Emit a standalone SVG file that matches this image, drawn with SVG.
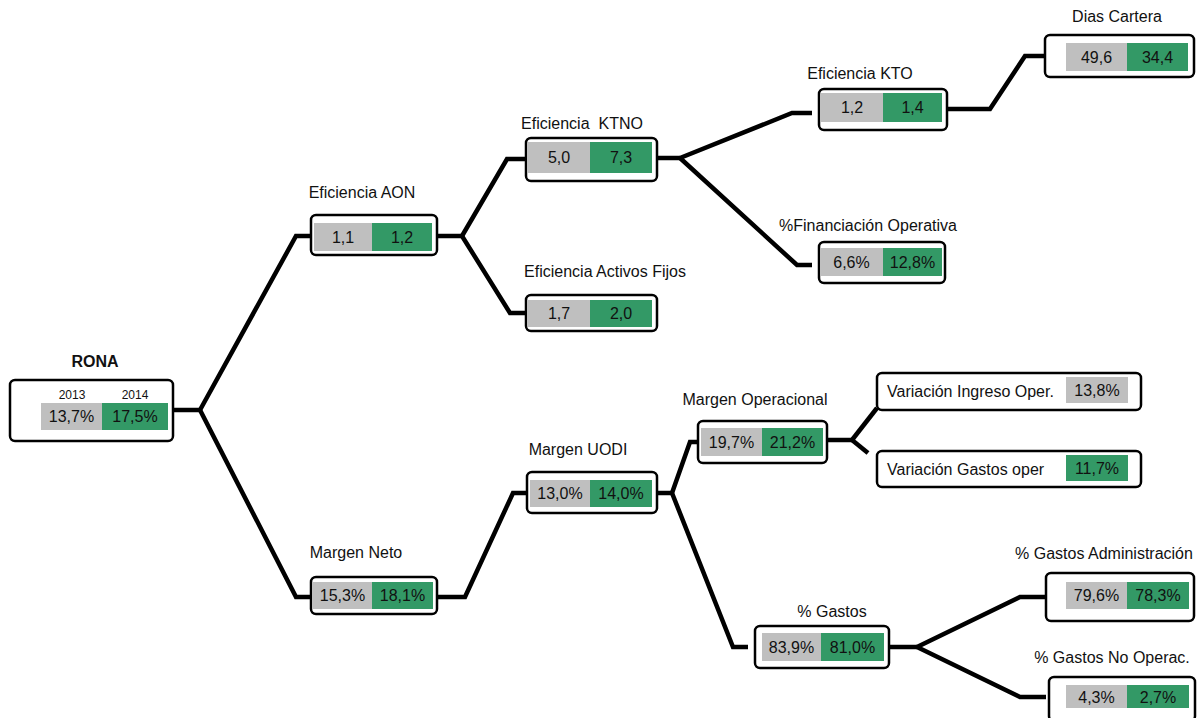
<svg xmlns="http://www.w3.org/2000/svg" width="1201" height="718" viewBox="0 0 1201 718">
<style>
.box{fill:#fff;stroke:#000;stroke-width:2.5}
.g{fill:#bfbfbf}
.v{fill:#339966}
.t{font-family:"Liberation Sans",Arial,sans-serif;font-size:16px;fill:#111}
.c{text-anchor:middle}
.s{font-size:12px}
.b{font-weight:bold}
.ln{fill:none;stroke:#000;stroke-width:4.5;stroke-linejoin:miter}
</style>
<rect width="1201" height="718" fill="#fff"/>
<g id="connectors">
<polyline class="ln" points="173,410 200,410"/>
<polyline class="ln" points="200,410 296,236 311,236"/>
<polyline class="ln" points="200,410 296,597 311,597"/>
<polyline class="ln" points="437,236 462,236"/>
<polyline class="ln" points="462,236 507,159 527,159"/>
<polyline class="ln" points="462,236 510,313 527,313"/>
<polyline class="ln" points="657,158 680,158"/>
<polyline class="ln" points="680,158 792,113 812,113"/>
<polyline class="ln" points="680,158 797,265 812,265"/>
<polyline class="ln" points="947,109 990,109 1025,56 1045,56"/>
<polyline class="ln" points="437,597 465,597 513,493 527,493"/>
<polyline class="ln" points="657,493 672,493"/>
<polyline class="ln" points="672,493 690,442 698,442"/>
<polyline class="ln" points="672,493 733,647 748,647"/>
<polyline class="ln" points="827,440 852,440"/>
<polyline class="ln" points="852,440 877,408"/>
<polyline class="ln" points="852,440 868,453"/>
<polyline class="ln" points="889,647 917,647"/>
<polyline class="ln" points="917,647 1020,597 1046,597"/>
<polyline class="ln" points="917,647 1020,697 1046,697"/>
</g>
<g id="rona">
<text class="t c b" x="95" y="367">RONA</text>
<rect class="box" x="10" y="380" width="163" height="61" rx="5"/>
<text class="t c s" x="72" y="399">2013</text>
<text class="t c s" x="135" y="399">2014</text>
<rect class="g" x="41" y="403" width="61" height="27"/>
<rect class="v" x="102" y="403" width="66" height="27"/>
<text class="t c" x="71.5" y="422">13,7%</text>
<text class="t c" x="135" y="422">17,5%</text>
</g>
<g id="eficiencia-aon">
<text class="t c" x="362" y="198">Eficiencia AON</text>
<rect class="box" x="311" y="215" width="126" height="40" rx="5"/>
<rect class="g" x="314" y="223" width="58" height="28"/>
<rect class="v" x="372" y="223" width="60" height="28"/>
<text class="t c" x="343" y="243">1,1</text>
<text class="t c" x="402" y="243">1,2</text>
</g>
<g id="eficiencia-ktno">
<text class="t c" x="582" y="129" style="white-space:pre">Eficiencia  KTNO</text>
<rect class="box" x="526" y="138" width="131" height="43" rx="5"/>
<rect class="g" x="528" y="142" width="62" height="31"/>
<rect class="v" x="590" y="142" width="62" height="31"/>
<text class="t c" x="559" y="163">5,0</text>
<text class="t c" x="621" y="163">7,3</text>
</g>
<g id="eficiencia-activos-fijos">
<text class="t c" x="605" y="277">Eficiencia Activos Fijos</text>
<rect class="box" x="526" y="295" width="131" height="36" rx="5"/>
<rect class="g" x="528" y="300" width="62" height="27"/>
<rect class="v" x="590" y="300" width="62" height="27"/>
<text class="t c" x="559" y="319">1,7</text>
<text class="t c" x="621" y="319">2,0</text>
</g>
<g id="eficiencia-kto">
<text class="t c" x="860" y="79">Eficiencia KTO</text>
<rect class="box" x="819" y="89" width="128" height="41" rx="5"/>
<rect class="g" x="821" y="93" width="62" height="29"/>
<rect class="v" x="883" y="93" width="59" height="29"/>
<text class="t c" x="852" y="113">1,2</text>
<text class="t c" x="912.5" y="113">1,4</text>
</g>
<g id="dias-cartera">
<text class="t c" x="1117" y="22">Dias Cartera</text>
<rect class="box" x="1045" y="35" width="149" height="42" rx="5"/>
<rect class="g" x="1066" y="43" width="61" height="28"/>
<rect class="v" x="1127" y="43" width="61" height="28"/>
<text class="t c" x="1096.5" y="63">49,6</text>
<text class="t c" x="1157.5" y="63">34,4</text>
</g>
<g id="financiacion-operativa">
<text class="t c" x="868" y="231">%Financiación Operativa</text>
<rect class="box" x="819" y="242" width="126" height="41" rx="5"/>
<rect class="g" x="820" y="248" width="63" height="28"/>
<rect class="v" x="883" y="248" width="59" height="28"/>
<text class="t c" x="851.5" y="268">6,6%</text>
<text class="t c" x="912.5" y="268">12,8%</text>
</g>
<g id="margen-neto">
<text class="t c" x="356" y="558">Margen Neto</text>
<rect class="box" x="311" y="577" width="126" height="37" rx="5"/>
<rect class="g" x="313" y="582" width="59" height="27"/>
<rect class="v" x="372" y="582" width="61" height="27"/>
<text class="t c" x="342.5" y="601">15,3%</text>
<text class="t c" x="402.5" y="601">18,1%</text>
</g>
<g id="margen-uodi">
<text class="t c" x="578" y="455">Margen UODI</text>
<rect class="box" x="527" y="472" width="130" height="41" rx="5"/>
<rect class="g" x="530" y="480" width="60" height="27"/>
<rect class="v" x="590" y="480" width="62" height="27"/>
<text class="t c" x="560" y="499">13,0%</text>
<text class="t c" x="621" y="499">14,0%</text>
</g>
<g id="margen-operacional">
<text class="t c" x="755" y="405">Margen Operacional</text>
<rect class="box" x="698" y="421" width="129" height="42" rx="5"/>
<rect class="g" x="701" y="428" width="61" height="28"/>
<rect class="v" x="762" y="428" width="61" height="28"/>
<text class="t c" x="731.5" y="448">19,7%</text>
<text class="t c" x="792.5" y="448">21,2%</text>
</g>
<g id="variacion-ingreso">
<rect class="box" x="877" y="373" width="264" height="37" rx="5"/>
<text class="t" x="887" y="397">Variación Ingreso Oper.</text>
<rect class="g" x="1066" y="377" width="62" height="26"/>
<text class="t c" x="1097" y="396">13,8%</text>
</g>
<g id="variacion-gastos">
<rect class="box" x="877" y="451" width="264" height="36" rx="5"/>
<text class="t" x="887" y="475">Variación Gastos oper</text>
<rect class="v" x="1066" y="455" width="62" height="26"/>
<text class="t c" x="1097" y="474">11,7%</text>
</g>
<g id="gastos">
<text class="t c" x="832" y="617">% Gastos</text>
<rect class="box" x="755" y="626" width="134" height="42" rx="5"/>
<rect class="g" x="762" y="633" width="59" height="28"/>
<rect class="v" x="821" y="633" width="63" height="28"/>
<text class="t c" x="791.5" y="653">83,9%</text>
<text class="t c" x="852.5" y="653">81,0%</text>
</g>
<g id="gastos-administracion">
<text class="t c" x="1104" y="559">% Gastos Administración</text>
<rect class="box" x="1046" y="573" width="148" height="48" rx="5"/>
<rect class="g" x="1066" y="582" width="61" height="27"/>
<rect class="v" x="1127" y="582" width="62" height="27"/>
<text class="t c" x="1096.5" y="601">79,6%</text>
<text class="t c" x="1158" y="601">78,3%</text>
</g>
<g id="gastos-no-operac">
<text class="t c" x="1112" y="663">% Gastos No Operac.</text>
<rect class="box" x="1049" y="677" width="146" height="44" rx="5"/>
<rect class="g" x="1066" y="685" width="61" height="23"/>
<rect class="v" x="1127" y="685" width="62" height="23"/>
<text class="t c" x="1096.5" y="703">4,3%</text>
<text class="t c" x="1158" y="703">2,7%</text>
</g>
</svg>
